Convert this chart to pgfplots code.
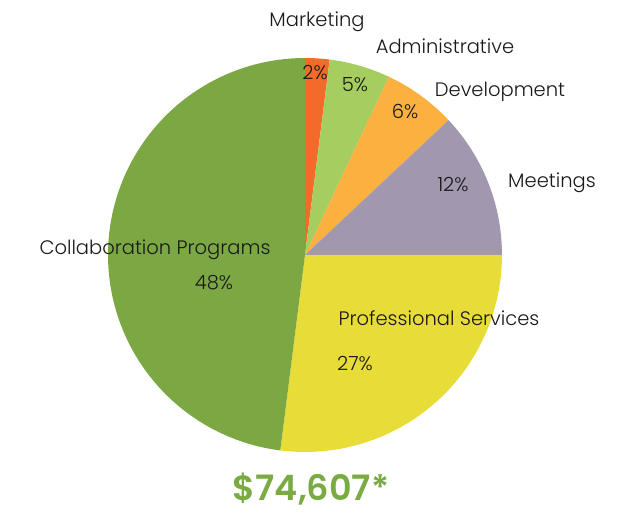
\documentclass[border=0pt]{standalone}
\usepackage{pgfplots}
\pgfplotsset{compat=1.18}
\usepackage{fontspec}
\setmainfont{Poppins}[UprightFont=* Light, BoldFont=* SemiBold]
\definecolor{cCollab}{HTML}{7BA843}
\definecolor{cMarket}{HTML}{F26B2A}
\definecolor{cAdmin}{HTML}{A5CD60}
\definecolor{cDev}{HTML}{FBB040}
\definecolor{cMeet}{HTML}{A197AF}
\definecolor{cProf}{HTML}{E8DD38}
\definecolor{cTitle}{HTML}{7AAB43}
\begin{document}
\begin{tikzpicture}
\begin{axis}[
  width=624pt, height=512pt, scale only axis,
  xmin=0, xmax=624, ymin=0, ymax=512,
  hide axis, clip=false,
]
\path (0,0) rectangle (624,512);
% slices: cumulative percent, clockwise from top
% Marketing 2, Administrative 5, Development 6, Meetings 12, Professional Services 27, Collaboration Programs 48
\addplot[fill=cMarket, draw=none, domain=0:2, samples=10] ({305+197*cos(90-3.6*x)},{257+197*sin(90-3.6*x)}) -- (305,257) -- cycle;
\addplot[fill=cAdmin, draw=none, domain=2:7, samples=15] ({305+197*cos(90-3.6*x)},{257+197*sin(90-3.6*x)}) -- (305,257) -- cycle;
\addplot[fill=cDev, draw=none, domain=7:13, samples=15] ({305+197*cos(90-3.6*x)},{257+197*sin(90-3.6*x)}) -- (305,257) -- cycle;
\addplot[fill=cMeet, draw=none, domain=13:25, samples=25] ({305+197*cos(90-3.6*x)},{257+197*sin(90-3.6*x)}) -- (305,257) -- cycle;
\addplot[fill=cProf, draw=none, domain=25:52, samples=50] ({305+197*cos(90-3.6*x)},{257+197*sin(90-3.6*x)}) -- (305,257) -- cycle;
\addplot[fill=cCollab, draw=none, domain=52:100, samples=90] ({305+197*cos(90-3.6*x)},{257+197*sin(90-3.6*x)}) -- (305,257) -- cycle;

\tikzset{lbl/.style={font=\fontsize{19.5}{22}\selectfont, text=black!90, inner sep=0pt}}
\node[lbl] at (317,490) {Marketing};
\node[lbl] at (315,439) {2\%};
\node[lbl] at (445,466) {Administrative};
\node[lbl] at (355,427) {5\%};
\node[lbl] at (500,420) {Development};
\node[lbl] at (405,401) {6\%};
\node[lbl] at (552,329) {Meetings};
\node[lbl] at (453,327) {12\%};
\node[lbl] at (439,194) {Professional Services};
\node[lbl] at (355,149) {27\%};
\node[lbl] at (155,262) {Collaboration Programs};
\node[lbl] at (214,229) {48\%};
\node[inner sep=0pt, text=cTitle, font=\fontsize{35}{40}\selectfont\bfseries] at (311,23) {\$74,607*};
\end{axis}
\end{tikzpicture}
\end{document}
